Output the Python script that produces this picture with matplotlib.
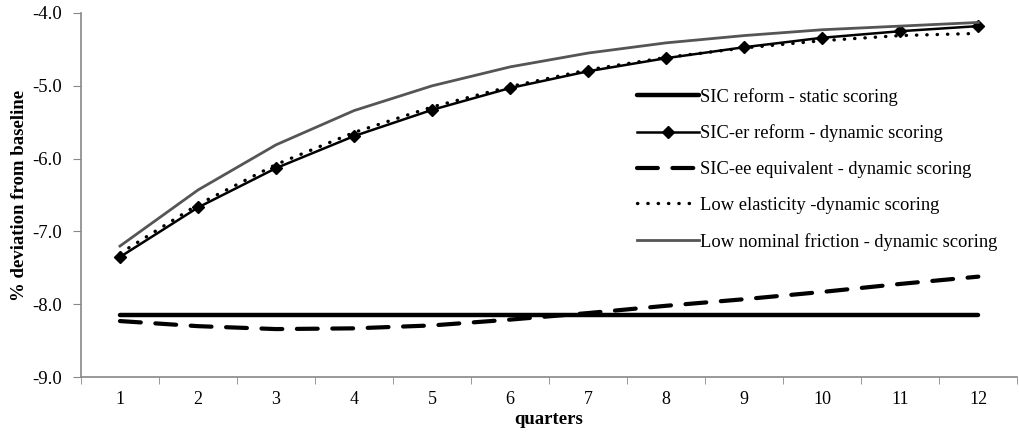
import matplotlib
matplotlib.use("Agg")
import matplotlib.pyplot as plt
from matplotlib.ticker import FixedLocator, FormatStrFormatter

quarters = list(range(1, 13))
sic_static = [-8.15] * 12
sic_er = [-7.35, -6.67, -6.13, -5.69, -5.33, -5.03, -4.80, -4.62, -4.47, -4.34, -4.25, -4.18]
sic_ee = [-8.23, -8.30, -8.34, -8.33, -8.29, -8.21, -8.12, -8.02, -7.93, -7.83, -7.72, -7.62]
low_elast = [-7.30, -6.63, -6.08, -5.64, -5.29, -5.01, -4.78, -4.61, -4.48, -4.38, -4.31, -4.28]
low_friction = [-7.20, -6.43, -5.81, -5.34, -5.00, -4.74, -4.55, -4.41, -4.31, -4.23, -4.18, -4.13]

labels = [
    "SIC reform - static scoring",
    "SIC-er reform - dynamic scoring",
    "SIC-ee equivalent - dynamic scoring",
    "Low elasticity -dynamic scoring",
    "Low nominal friction - dynamic scoring",
]

plt.rcParams["font.family"] = ["Liberation Serif", "DejaVu Serif"]

fig = plt.figure(figsize=(10.2, 4.33), dpi=100)
ax = fig.add_axes([0.0794, 0.129, 0.918, 0.841])

ax.plot(quarters, sic_static, color="black", lw=3.2, solid_capstyle="round", label=labels[0])
ax.plot(quarters, sic_er, color="black", lw=1.8, marker="D", ms=6.5, label=labels[1])
ax.plot(quarters, sic_ee, color="black", lw=3.0, dashes=(5, 3.5), dash_capstyle="round", label=labels[2])
ax.plot(quarters, low_elast, color="black", lw=2.4, dashes=(0.1, 3.0), dash_capstyle="round", label=labels[3])
ax.plot(quarters, low_friction, color="#555555", lw=2.0, label=labels[4])

ax.set_xlim(0.5, 12.5)
ax.set_ylim(-9.0, -4.0)
ax.xaxis.set_major_locator(FixedLocator(quarters))
ax.xaxis.set_minor_locator(FixedLocator([q + 0.5 for q in range(0, 13)]))
ax.tick_params(axis="x", which="major", length=0, pad=10, labelsize=13)
ax.tick_params(axis="x", which="minor", length=5, color="#888888", direction="out")
ax.yaxis.set_major_locator(FixedLocator([-9, -8, -7, -6, -5, -4]))
ax.yaxis.set_major_formatter(FormatStrFormatter("%.1f"))
ax.tick_params(axis="y", length=6, color="#888888", direction="out", labelsize=13.5, pad=8)

for side in ("top", "right"):
    ax.spines[side].set_visible(False)
for side in ("left", "bottom"):
    ax.spines[side].set_color("#888888")
    ax.spines[side].set_linewidth(1.2)

ax.set_xlabel("quarters", fontweight="bold", fontsize=13.5, labelpad=2)
ax.set_ylabel("% deviation from baseline", fontweight="bold", fontsize=13.5, labelpad=3)

leg = ax.legend(loc="upper left", bbox_to_anchor=(620 / 1020, 1 - 71 / 433),
                bbox_transform=fig.transFigure, frameon=False, fontsize=13.3,
                handlelength=3.35, handletextpad=0.1, labelspacing=1.02)

fig.savefig("out.png", dpi=100)
